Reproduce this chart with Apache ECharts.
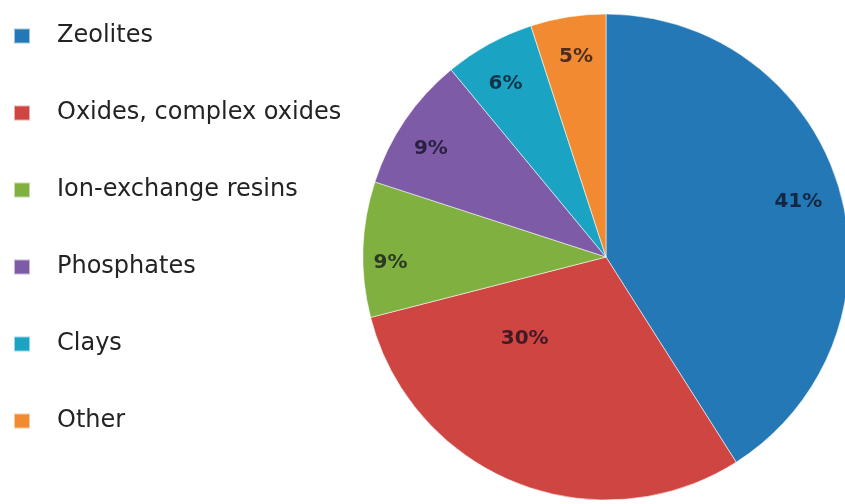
<!DOCTYPE html>
<html>
<head>
<meta charset="utf-8">
<script src="https://cdn.jsdelivr.net/npm/echarts@6/dist/echarts.min.js"></script>
<style>
  html, body { margin: 0; padding: 0; background: #ffffff; }
  #chart { width: 845px; height: 504px; }
</style>
</head>
<body>
<div id="chart"></div>
<script>
// Share of sorbent materials by class (percent)
const categories = ['Zeolites', 'Oxides, complex oxides', 'Ion-exchange resins', 'Phosphates', 'Clays', 'Other'];
const shares = [41, 30, 9, 9, 6, 5];
const colors = ['#2578b6', '#cf4541', '#80b03f', '#7e5ba6', '#1ba3c3', '#f28a31'];

const chart = echarts.init(document.getElementById('chart'));

const FONT = '"DejaVu Sans", "Liberation Sans", sans-serif';

// small nudges for individual value labels (by slice index)
const labelNudge = {
  0: [-4, 2],
  1: [-6, -108],
  2: [-11, 12],
  3: [-6, 7],
  4: [-2, 6],
  5: [2, 2]
};

const pieData = categories.map((name, i) => ({
  name: name,
  value: shares[i],
  itemStyle: { color: colors[i] }
}));

// Labels ride on a transparent ring so they sit near the outer edge
const labelData = categories.map((name, i) => {
  const item = { name: name, value: shares[i] };
  if (labelNudge[i]) item.label = { offset: labelNudge[i] };
  return item;
});

chart.setOption({
  animation: false,
  color: colors,
  legend: {
    orient: 'vertical',
    left: 8,
    top: 19,
    itemWidth: 16,
    itemHeight: 15,
    itemGap: 53,
    icon: 'rect',
    selectedMode: false,
    textStyle: {
      fontFamily: FONT,
      fontSize: 24,
      color: '#232323',
      padding: [0, 0, 0, 22]
    },
    data: categories
  },
  series: [
    {
      type: 'pie',
      center: [606, 257],
      radius: [0, 243],
      startAngle: 90,
      clockwise: true,
      silent: true,
      data: pieData,
      itemStyle: { borderColor: 'rgba(255,255,255,0.55)', borderWidth: 1 },
      label: { show: false },
      labelLine: { show: false }
    },
    {
      type: 'pie',
      center: [606, 257],
      radius: [160, 243],
      startAngle: 90,
      clockwise: true,
      silent: true,
      legendHoverLink: false,
      data: labelData,
      itemStyle: { color: 'rgba(0,0,0,0)' },
      label: {
        show: true,
        position: 'inside',
        formatter: '{c}%',
        fontFamily: FONT,
        fontSize: 20,
        fontWeight: 'bold',
        color: 'rgba(10,10,25,0.72)'
      },
      labelLine: { show: false }
    }
  ]
});
</script>
</body>
</html>
